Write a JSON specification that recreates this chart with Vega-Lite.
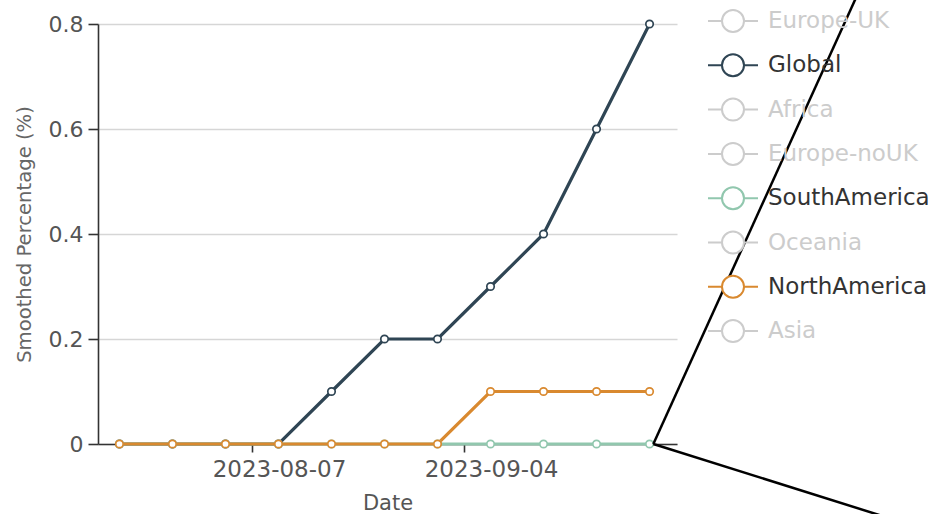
{
  "$schema": "https://vega.github.io/schema/vega-lite/v6.json",
  "width": 579,
  "height": 420,
  "autosize": {"type": "none"},
  "padding": {"left": 98, "top": 24, "right": 258, "bottom": 70},
  "background": "white",
  "config": {"view": {"stroke": null}, "font": "DejaVu Sans"},
  "datasets": {
    "series": [
      {"date": "2023-07-20T12:00:00Z", "region": "Global", "value": 0},
      {"date": "2023-07-27T12:00:00Z", "region": "Global", "value": 0},
      {"date": "2023-08-03T12:00:00Z", "region": "Global", "value": 0},
      {"date": "2023-08-10T12:00:00Z", "region": "Global", "value": 0},
      {"date": "2023-08-17T12:00:00Z", "region": "Global", "value": 0.1},
      {"date": "2023-08-24T12:00:00Z", "region": "Global", "value": 0.2},
      {"date": "2023-08-31T12:00:00Z", "region": "Global", "value": 0.2},
      {"date": "2023-09-07T12:00:00Z", "region": "Global", "value": 0.3},
      {"date": "2023-09-14T12:00:00Z", "region": "Global", "value": 0.4},
      {"date": "2023-09-21T12:00:00Z", "region": "Global", "value": 0.6},
      {"date": "2023-09-28T12:00:00Z", "region": "Global", "value": 0.8},
      {"date": "2023-07-20T12:00:00Z", "region": "SouthAmerica", "value": 0},
      {"date": "2023-07-27T12:00:00Z", "region": "SouthAmerica", "value": 0},
      {"date": "2023-08-03T12:00:00Z", "region": "SouthAmerica", "value": 0},
      {"date": "2023-08-10T12:00:00Z", "region": "SouthAmerica", "value": 0},
      {"date": "2023-08-17T12:00:00Z", "region": "SouthAmerica", "value": 0},
      {"date": "2023-08-24T12:00:00Z", "region": "SouthAmerica", "value": 0},
      {"date": "2023-08-31T12:00:00Z", "region": "SouthAmerica", "value": 0},
      {"date": "2023-09-07T12:00:00Z", "region": "SouthAmerica", "value": 0},
      {"date": "2023-09-14T12:00:00Z", "region": "SouthAmerica", "value": 0},
      {"date": "2023-09-21T12:00:00Z", "region": "SouthAmerica", "value": 0},
      {"date": "2023-09-28T12:00:00Z", "region": "SouthAmerica", "value": 0},
      {"date": "2023-07-20T12:00:00Z", "region": "NorthAmerica", "value": 0},
      {"date": "2023-07-27T12:00:00Z", "region": "NorthAmerica", "value": 0},
      {"date": "2023-08-03T12:00:00Z", "region": "NorthAmerica", "value": 0},
      {"date": "2023-08-10T12:00:00Z", "region": "NorthAmerica", "value": 0},
      {"date": "2023-08-17T12:00:00Z", "region": "NorthAmerica", "value": 0},
      {"date": "2023-08-24T12:00:00Z", "region": "NorthAmerica", "value": 0},
      {"date": "2023-08-31T12:00:00Z", "region": "NorthAmerica", "value": 0},
      {"date": "2023-09-07T12:00:00Z", "region": "NorthAmerica", "value": 0.1},
      {"date": "2023-09-14T12:00:00Z", "region": "NorthAmerica", "value": 0.1},
      {"date": "2023-09-21T12:00:00Z", "region": "NorthAmerica", "value": 0.1},
      {"date": "2023-09-28T12:00:00Z", "region": "NorthAmerica", "value": 0.1}
    ],
    "marker": [
      {"t": "2023-09-29T00:00:00Z", "v": 0, "t2": "2023-10-26T20:00:00Z", "v2": 0.884},
      {"t": "2023-09-29T00:00:00Z", "v": 0, "t2": "2023-11-08T12:00:00Z", "v2": -0.1836}
    ]
  },
  "layer": [
    {
      "data": {"name": "series"},
      "mark": {
        "type": "line",
        "strokeWidth": 3.2,
        "point": {"filled": false, "fill": "white", "size": 55, "strokeWidth": 1.7, "opacity": 1}
      },
      "encoding": {
        "x": {
          "field": "date",
          "type": "temporal",
          "scale": {
            "type": "utc",
            "domain": [
              {"year": 2023, "month": 7, "date": 17, "hours": 16, "utc": true},
              {"year": 2023, "month": 10, "date": 2, "hours": 3, "utc": true}
            ]
          },
          "axis": {
            "title": "Date",
            "values": [
              {"year": 2023, "month": 8, "date": 7, "utc": true},
              {"year": 2023, "month": 9, "date": 4, "utc": true}
            ],
            "format": "%Y-%m-%d",
            "grid": false,
            "domainColor": "#333",
            "domainWidth": 1.6,
            "tickColor": "#333",
            "tickWidth": 1.6,
            "tickSize": 8,
            "labelFontSize": 23,
            "labelColor": "#555",
            "labelPadding": 6,
            "labelOffset": 27,
            "titleFontSize": 21,
            "titleFontWeight": "normal",
            "titleColor": "#555",
            "titlePadding": 11
          }
        },
        "y": {
          "field": "value",
          "type": "quantitative",
          "scale": {"domain": [0, 0.8]},
          "axis": {
            "title": "Smoothed Percentage (%)",
            "values": [0, 0.2, 0.4, 0.6, 0.8],
            "format": "~g",
            "domainColor": "#333",
            "domainWidth": 1.6,
            "tickColor": "#333",
            "tickWidth": 1.6,
            "tickSize": 10,
            "gridColor": "#d6d6d6",
            "gridWidth": 1.6,
            "labelFontSize": 22,
            "labelColor": "#555",
            "labelPadding": 5,
            "titleFontSize": 19.6,
            "titleFontWeight": "normal",
            "titleColor": "#666",
            "titlePadding": 14
          }
        },
        "color": {
          "field": "region",
          "type": "nominal",
          "scale": {
            "domain": ["Europe-UK", "Global", "Africa", "Europe-noUK", "SouthAmerica", "Oceania", "NorthAmerica", "Asia"],
            "range": ["#cccccc", "#2f4554", "#cccccc", "#cccccc", "#91c7ae", "#cccccc", "#d9892f", "#cccccc"]
          },
          "legend": {
            "title": null,
            "orient": "none",
            "legendX": 609,
            "legendY": -29,
            "padding": 0,
            "labelFont": "DejaVu Sans",
            "labelFontSize": 23,
            "labelOffset": 9,
            "labelLimit": 240,
            "rowPadding": 3.3,
            "symbolType": "M-1,0L-0.44,0M0.44,0L1,0M-0.44,0A0.44,0.44,0,1,1,0.44,0A0.44,0.44,0,1,1,-0.44,0Z",
            "symbolSize": 2500,
            "symbolStrokeWidth": 2,
            "symbolFillColor": "white",
            "encode": {
              "labels": {
                "update": {
                  "fill": {"signal": "indexof(['Global','SouthAmerica','NorthAmerica'], datum.label) >= 0 ? '#333' : '#cccccc'"}
                }
              },
              "symbols": {
                "update": {
                  "fill": {"value": "white"},
                  "shape": {"value": "M-1,0L-0.44,0M0.44,0L1,0M-0.44,0A0.44,0.44,0,1,1,0.44,0A0.44,0.44,0,1,1,-0.44,0Z"},
                  "size": {"value": 2500},
                  "strokeWidth": {"value": 2},
                  "opacity": {"value": 1}
                }
              }
            }
          }
        }
      }
    },
    {
      "data": {"name": "marker"},
      "mark": {"type": "rule", "color": "black", "strokeWidth": 2.5, "clip": false},
      "encoding": {
        "x": {"field": "t", "type": "temporal"},
        "y": {"field": "v", "type": "quantitative"},
        "x2": {"field": "t2"},
        "y2": {"field": "v2"}
      }
    }
  ]
}
